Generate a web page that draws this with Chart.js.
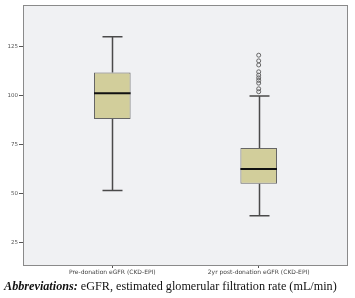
<!DOCTYPE html>
<html lang="en">
<head>
<meta charset="UTF-8">
<title>eGFR boxplot</title>
<script src="https://cdn.jsdelivr.net/npm/chart.js@4.4.1/dist/chart.umd.min.js"></script>
<style>
  body { margin: 0; background: #fff; }
  .wrap { position: relative; width: 355px; height: 298px; }
  #caption {
    position: absolute; left: 4px; top: 279px;
    font-family: "Liberation Serif", serif; font-size: 12.2px; color: #111;
    white-space: nowrap;
  }
</style>
</head>
<body>
<div class="wrap">
  <canvas id="c" width="355" height="298"></canvas>
  <div id="caption"><b><i>Abbreviations:</i></b> eGFR, estimated glomerular filtration rate (mL/min)</div>
</div>
<script>
// data
const categories = ['Pre-donation eGFR (CKD-EPI)', '2yr post-donation eGFR (CKD-EPI)'];
const whiskerLow = [51.6, 38.6];
const q1 = [88.1, 55.0];
const median = [101.3, 62.5];
const q3 = [112.0, 73.3];
const whiskerHigh = [130.3, 99.9];
const outliers2 = [120.8, 117.9, 115.8, 112.3, 110.6, 109.2, 107.9, 106.5, 103.6, 102.1];
const yTicks = [25, 50, 75, 100, 125];

// background, frame, whiskers and medians
const boxPlugin = {
  id: 'boxParts',
  beforeDraw(chart) {
    const { ctx, chartArea: a } = chart;
    ctx.save();
    ctx.fillStyle = '#f0f1f3';
    ctx.fillRect(a.left, a.top, a.right - a.left, a.bottom - a.top);
    ctx.restore();
  },
  beforeDatasetsDraw(chart) {
    const { ctx, scales: { x, y } } = chart;
    ctx.save();
    ctx.strokeStyle = '#4a4a4a';
    ctx.lineWidth = 1.5;
    categories.forEach((c, i) => {
      const px = Math.round(x.getPixelForValue(i)) + 0.5;
      const cap = 10;
      ctx.beginPath();
      ctx.moveTo(px, y.getPixelForValue(whiskerHigh[i]));
      ctx.lineTo(px, y.getPixelForValue(q3[i]));
      ctx.moveTo(px, y.getPixelForValue(q1[i]));
      ctx.lineTo(px, y.getPixelForValue(whiskerLow[i]));
      ctx.moveTo(px - cap, y.getPixelForValue(whiskerHigh[i]));
      ctx.lineTo(px + cap, y.getPixelForValue(whiskerHigh[i]));
      ctx.moveTo(px - cap, y.getPixelForValue(whiskerLow[i]));
      ctx.lineTo(px + cap, y.getPixelForValue(whiskerLow[i]));
      ctx.stroke();
    });
    ctx.restore();
  },
  afterDatasetsDraw(chart) {
    const { ctx, chartArea: a, scales: { y } } = chart;
    const meta = chart.getDatasetMeta(0);
    ctx.save();
    ctx.strokeStyle = '#111';
    ctx.lineWidth = 2;
    meta.data.forEach((bar, i) => {
      const py = y.getPixelForValue(median[i]);
      ctx.beginPath();
      ctx.moveTo(bar.x - bar.width / 2, py);
      ctx.lineTo(bar.x + bar.width / 2, py);
      ctx.stroke();
    });
    ctx.strokeStyle = '#8a8a8a';
    ctx.lineWidth = 1;
    ctx.strokeRect(a.left + 0.5, a.top + 0.5, a.right - a.left - 1, a.bottom - a.top);
    ctx.restore();
  }
};

new Chart(document.getElementById('c'), {
  type: 'bar',
  data: {
    datasets: [{
      data: categories.map((c, i) => ({ x: i, y: [q1[i], q3[i]] })),
      backgroundColor: '#d2ce9b',
      borderColor: '#666',
      borderWidth: 1,
      borderSkipped: false,
      barPercentage: 0.25,
      categoryPercentage: 1
    }, {
      type: 'scatter',
      data: outliers2.map(v => ({ x: 1, y: v })),
      pointStyle: 'circle',
      pointRadius: 2,
      backgroundColor: 'rgba(0,0,0,0)',
      borderColor: '#666',
      borderWidth: 1
    }]
  },
  plugins: [boxPlugin],
  options: {
    responsive: false,
    animation: false,
    layout: { padding: { top: 4, right: 7, left: 0, bottom: 0 } },
    plugins: { legend: { display: false }, tooltip: { enabled: false } },
    scales: {
      x: {
        type: 'linear',
        offset: false,
        min: -0.61, max: 1.61,
        afterBuildTicks: s => { s.ticks = categories.map((c, i) => ({ value: i })); },
        afterFit: s => { s.height = 33; },
        ticks: {
          callback: v => categories[v],
          font: { family: 'DejaVu Sans', size: 6 },
          color: '#444', padding: 1, maxRotation: 0
        },
        grid: { drawOnChartArea: false, offset: false, tickLength: 3, color: '#555' },
        border: { display: false }
      },
      y: {
        min: 13.4, max: 146.5,
        afterBuildTicks: s => { s.ticks = yTicks.map(v => ({ value: v })); },
        afterFit: s => { s.width = 23; },
        ticks: {
          font: { family: 'DejaVu Sans', size: 5.5 },
          color: '#555', padding: 1
        },
        grid: { drawOnChartArea: false, tickLength: 4, color: '#555' },
        border: { display: false }
      }
    }
  }
});
</script>
</body>
</html>
